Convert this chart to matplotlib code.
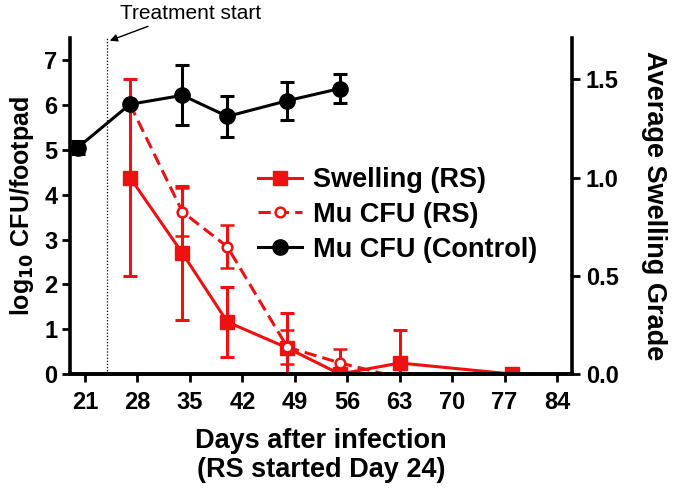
import matplotlib
matplotlib.use("Agg")
import matplotlib.pyplot as plt
from matplotlib.lines import Line2D

plt.rcParams['font.family'] = ['Liberation Sans', 'DejaVu Sans']

# Data
ctrl_days = [20, 27, 34, 40, 48, 55]
ctrl_cfu = [5.05, 6.02, 6.22, 5.75, 6.10, 6.37]
ctrl_err = [0.15, 0.0, 0.67, 0.45, 0.42, 0.32]

rs_days = [27, 34, 40, 48, 55, 61]
rs_cfu = [6.02, 3.62, 2.84, 0.60, 0.25, 0.0]
rs_err = [0.0, 0.54, 0.48, 0.38, 0.30, 0.0]

sw_days = [27, 34, 40, 48, 55, 63, 78]
sw_val = [1.0, 0.615, 0.265, 0.133, 0.0, 0.056, 0.0]
sw_err = [0.5, 0.34, 0.18, 0.18, 0.0, 0.17, 0.0]

xticks = [21, 28, 35, 42, 49, 56, 63, 70, 77, 84]
yticks_left = [0, 1, 2, 3, 4, 5, 6, 7]
yticks_right = [0.0, 0.5, 1.0, 1.5]
treat_day = 24

RED = '#EE1111'

fig = plt.figure(figsize=(6.76, 4.92), dpi=100)
ax1 = fig.add_axes([0.1036, 0.2398, 0.7425, 0.683])
ax2 = ax1.twinx()
ax1.set_zorder(ax2.get_zorder() + 1)
ax1.patch.set_visible(False)

lw = 2.2
# Swelling on right axis
ax2.errorbar(sw_days, sw_val, yerr=sw_err, color=RED, lw=lw, marker='s',
             ms=10.5, capsize=5, capthick=lw, elinewidth=lw)
# Mu CFU (RS) on left axis
ax1.errorbar(rs_days, rs_cfu, yerr=rs_err, color=RED, lw=lw, ls=(0, (4, 2)),
             marker='o', ms=7, mfc='white', mew=1.8, markevery=list(range(5)),
             capsize=5, capthick=lw, elinewidth=lw)
# Control
ax1.errorbar(ctrl_days, ctrl_cfu, yerr=ctrl_err, color='black', lw=lw,
             marker='o', ms=11, capsize=5, capthick=lw, elinewidth=lw, zorder=5)

ax1.axvline(treat_day, color='black', lw=0.9, ls=(0, (1, 1.5)), zorder=1)

ax1.set_xlim(19, 86)
ax1.set_ylim(0, 7.5)
ax2.set_ylim(0, 1.71)
ax1.set_xticks(xticks)
ax1.set_yticks(yticks_left)
ax2.set_yticks(yticks_right)
ax2.set_yticklabels([f"{v:.1f}" for v in yticks_right])

for ax in (ax1, ax2):
    ax.spines['top'].set_visible(False)
    for s in ('left', 'right', 'bottom'):
        ax.spines[s].set_linewidth(2.6)
    ax.tick_params(width=2.0, length=6, labelsize=17, direction='out')
    for lab in ax.get_xticklabels() + ax.get_yticklabels():
        lab.set_fontweight('bold')
ax1.tick_params(axis='y', pad=3)
ax1.tick_params(axis='x', pad=6)
ax2.tick_params(axis='y', pad=4)
ax2.spines['left'].set_visible(False)
ax1.spines['right'].set_visible(False)

ax1.set_xlabel("Days after infection\n(RS started Day 24)", fontsize=19.5,
               fontweight='bold', labelpad=10, linespacing=1.15)
ax1.set_ylabel(r"log$_\mathbf{10}$ CFU/footpad", fontsize=18, fontweight='bold', labelpad=6)
ax2.set_ylabel("Average Swelling Grade", fontsize=19.5, fontweight='bold',
               rotation=270, labelpad=35)

ax1.text(25.7, 8.05, "Treatment start", fontsize=15, va='center', ha='left',
         clip_on=False)
ax1.annotate("", xy=(treat_day + 0.3, 7.44), xytext=(29.4, 7.76),
             annotation_clip=False,
             arrowprops=dict(arrowstyle='-|>', color='black', lw=1,
                             shrinkA=0, shrinkB=0, mutation_scale=11),
             xycoords='data', textcoords='data')

handles = [
    Line2D([], [], color=RED, lw=lw, marker='s', ms=10.5),
    Line2D([], [], color=RED, lw=lw, ls=(0, (4, 2)), marker='o', ms=7, mfc='white', mew=1.8),
    Line2D([], [], color='black', lw=lw, marker='o', ms=11),
]
labels = ["Swelling (RS)", "Mu CFU (RS)", "Mu CFU (Control)"]
leg = ax1.legend(handles, labels, loc='upper left', bbox_to_anchor=(0.374, 0.616),
                 frameon=False, prop={'size': 19.5, 'weight': 'bold'},
                 handlelength=1.65, handletextpad=0.4, labelspacing=0.33,
                 borderaxespad=0, borderpad=0)

fig.savefig("out.png", dpi=100)
